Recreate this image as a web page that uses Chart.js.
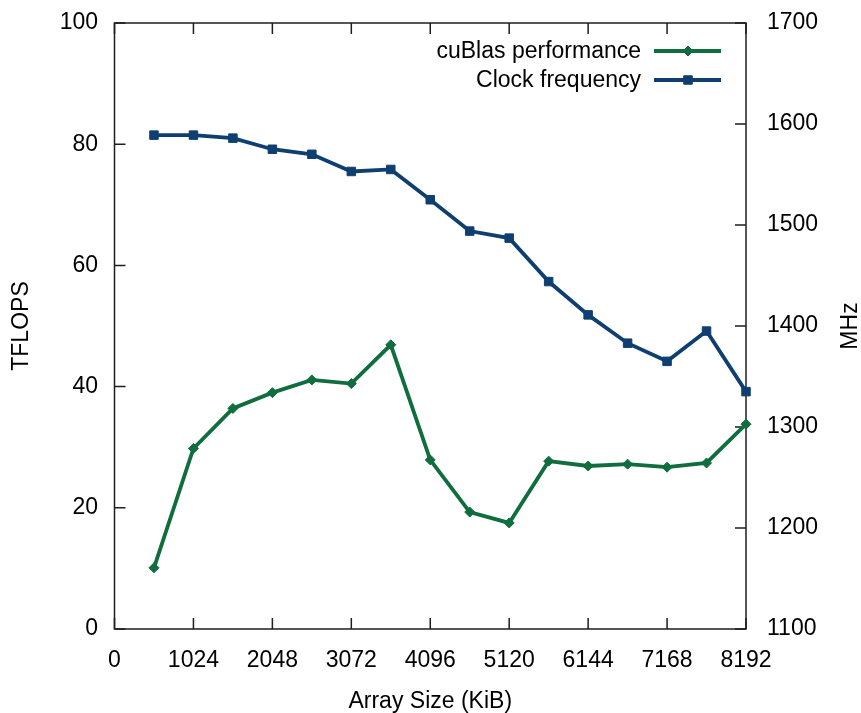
<!DOCTYPE html>
<html>
<head>
<meta charset="utf-8">
<script src="https://cdn.jsdelivr.net/npm/chart.js@4/dist/chart.umd.min.js"></script>
<style>
html,body{margin:0;padding:0;background:#fff;}
#wrap{width:861px;height:713px;position:relative;}
</style>
</head>
<body>
<div id="wrap"><canvas id="c"></canvas></div>
<script>
// Data
const sizes = [512,1024,1536,2048,2560,3072,3584,4096,4608,5120,5632,6144,6656,7168,7680,8192];
const tflops = [10.1,29.8,36.4,39.0,41.1,40.5,46.9,27.9,19.3,17.5,27.7,26.9,27.2,26.7,27.4,33.8];
const clockMhz = [1589,1589,1586,1575,1570,1553,1555,1525,1494,1487,1444,1411,1383,1365,1395,1335];

const xTickValues = [0,1024,2048,3072,4096,5120,6144,7168,8192];
const yTickValues = [0,20,40,60,80,100];
const y2TickValues = [1100,1200,1300,1400,1500,1600,1700];

const seriesNames = ["cuBlas performance","Clock frequency"];
const GREEN = "#0f6d3e";
const BLUE = "#0e3f70";
const FONT = "'Liberation Sans', Arial, Helvetica, sans-serif";
const FS = 23;

const $ = (id) => document.getElementById(id);

function useTicks(values){
  return (scale)=>{ scale.ticks = values.map(v=>({value:v})); };
}
const plain = (v) => String(v);

// fixed axis widths, no extra label padding
function fixWidth(w){
  return (s)=>{ s.width = w; s.paddingTop = 0; s.paddingBottom = 0; };
}

// diamond / square like gnuplot's points
function marker(ctx, style, x, y, r){
  ctx.beginPath();
  if(style === "rectRot"){
    ctx.moveTo(x-r,y); ctx.lineTo(x,y-r); ctx.lineTo(x+r,y); ctx.lineTo(x,y+r);
  } else {
    const s = r*Math.SQRT1_2;
    ctx.rect(x-s,y-s,2*s,2*s);
  }
  ctx.closePath();
  ctx.fill();
  ctx.stroke();
}

const framePlugin = {
  id: "frame",
  beforeDatasetsDraw(chart){
    const {ctx, chartArea:a, scales} = chart;
    const t = 11;
    ctx.save();
    ctx.strokeStyle = "#1e1e1e";
    ctx.lineWidth = 1.5;
    ctx.strokeRect(a.left, a.top, a.right-a.left, a.bottom-a.top);
    ctx.beginPath();
    scales.x.ticks.forEach(k=>{
      const px = scales.x.getPixelForValue(k.value);
      ctx.moveTo(px, a.bottom); ctx.lineTo(px, a.bottom-t);
      ctx.moveTo(px, a.top); ctx.lineTo(px, a.top+t);
    });
    scales.y.ticks.forEach(k=>{
      const py = scales.y.getPixelForValue(k.value);
      ctx.moveTo(a.left, py); ctx.lineTo(a.left+t, py);
    });
    scales.y2.ticks.forEach(k=>{
      const py = scales.y2.getPixelForValue(k.value);
      ctx.moveTo(a.right, py); ctx.lineTo(a.right-t, py);
    });
    ctx.stroke();

    // right axis title, reading bottom to top like the left one
    ctx.fillStyle = "#000";
    ctx.font = FS + "px " + FONT;
    ctx.textAlign = "center";
    ctx.textBaseline = "middle";
    ctx.translate(851, (a.top+a.bottom)/2);
    ctx.rotate(-Math.PI/2);
    ctx.fillText("MHz", 0, 0);
    ctx.restore();
  },
  afterDraw(chart){
    const ctx = chart.ctx;
    const rows = [51, 80];
    ctx.save();
    ctx.font = FS + "px " + FONT;
    ctx.textAlign = "right";
    ctx.textBaseline = "middle";
    chart.data.datasets.forEach((ds,i)=>{
      const y = rows[i];
      ctx.fillStyle = "#000";
      ctx.fillText(ds.label, 641, y+1);
      ctx.strokeStyle = ds.borderColor;
      ctx.lineWidth = ds.borderWidth;
      ctx.beginPath();
      ctx.moveTo(654, y); ctx.lineTo(721, y);
      ctx.stroke();
      ctx.fillStyle = ds.pointBackgroundColor;
      ctx.lineWidth = ds.pointBorderWidth;
      marker(ctx, ds.pointStyle, 688, y, ds.pointRadius);
    });
    ctx.restore();
  }
};

const chart = new Chart($("c"), {
  type: "line",
  data: {
    datasets: [
      {
        label: seriesNames[0],
        data: sizes.map((s,i)=>({x:s, y:tflops[i]})),
        yAxisID: "y",
        borderColor: GREEN,
        backgroundColor: GREEN,
        pointBackgroundColor: GREEN,
        pointBorderColor: GREEN,
        borderWidth: 3.8,
        pointStyle: "rectRot",
        pointRadius: 5,
        pointBorderWidth: 1,
        tension: 0,
        clip: false
      },
      {
        label: seriesNames[1],
        data: sizes.map((s,i)=>({x:s, y:clockMhz[i]})),
        yAxisID: "y2",
        borderColor: BLUE,
        backgroundColor: BLUE,
        pointBackgroundColor: BLUE,
        pointBorderColor: BLUE,
        borderWidth: 3.8,
        pointStyle: "rect",
        pointRadius: 6,
        pointBorderWidth: 1,
        tension: 0,
        clip: false
      }
    ]
  },
  options: {
    responsive: true,
    maintainAspectRatio: false,
    animation: false,
    layout: { padding: { top: 23, left: 0, right: 0, bottom: 0 } },
    plugins: { legend: { display: false }, tooltip: { enabled: false } },
    scales: {
      x: {
        type: "linear",
        min: 0, max: 8192,
        afterBuildTicks: useTicks(xTickValues),
        afterFit: (s)=>{ s.height = 84; s.paddingLeft = 0; s.paddingRight = 0; },
        grid: { display: false, drawTicks: false },
        border: { display: false },
        ticks: { color: "#000", padding: 18, maxRotation: 0, callback: plain, font: { family: FONT, size: FS, lineHeight: 1.2 } },
        title: { display: true, text: "Array Size (KiB)", color: "#000", padding: { top: 0, bottom: 0 }, font: { family: FONT, size: FS, lineHeight: 1 } }
      },
      y: {
        position: "left",
        min: 0, max: 100,
        afterBuildTicks: useTicks(yTickValues),
        afterFit: fixWidth(114.5),
        grid: { display: false, drawTicks: false },
        border: { display: false },
        ticks: { color: "#000", padding: 16.5, callback: plain, font: { family: FONT, size: FS } },
        title: { display: true, text: "TFLOPS", color: "#000", padding: { top: 10.5, bottom: 0 }, font: { family: FONT, size: FS, lineHeight: 1 } }
      },
      y2: {
        position: "right",
        min: 1100, max: 1700,
        afterBuildTicks: useTicks(y2TickValues),
        afterFit: fixWidth(115),
        grid: { display: false, drawTicks: false },
        border: { display: false },
        ticks: { color: "#000", padding: 21, callback: plain, font: { family: FONT, size: FS } }
      }
    }
  },
  plugins: [framePlugin]
});
</script>
</body>
</html>
